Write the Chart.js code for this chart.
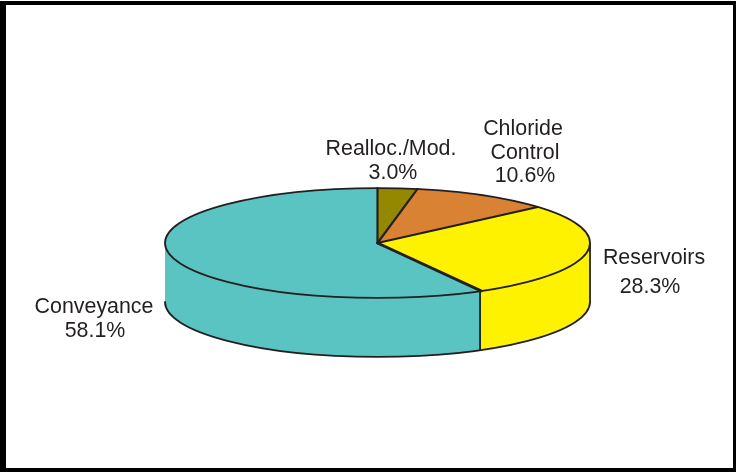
<!DOCTYPE html>
<html>
<head>
<meta charset="utf-8">
<script src="https://cdn.jsdelivr.net/npm/chart.js@4"></script>
<style>
    html, body { margin: 0; padding: 0; background: #fff; overflow: hidden; }
    #frame {
        position: absolute; left: 0; top: 1px; width: 736px; height: 471px;
        box-sizing: border-box; border: solid #000; border-width: 4px 3px 4px 6px;
        pointer-events: none;
    }
    canvas { position: absolute; left: 0; top: 0; }
</style>
</head>
<body>
<canvas id="pieChart" width="736" height="472"></canvas>
<div id="frame"></div>
<script>
// Data
const categories = ['Realloc./Mod.', 'Chloride|Control', 'Reservoirs', 'Conveyance'];
const shares = [3.0, 10.6, 28.3, 58.1];
const sliceColors = ['#948800', '#D98233', '#FFF200', '#5AC4C3'];

// Label placement: centre x and baseline of each line, the value comes last
const labelSpots = [
    { x: [391, 393], y: [155, 179] },
    { x: [523, 525, 525], y: [135, 159, 182] },
    { x: [654, 650], y: [264, 293] },
    { x: [94, 95], y: [313, 337] }
];

const squash = 0.258;   // ellipse height / width
const depth = 59;       // height of the side wall
const inkColor = '#231F20';

function sliceArcs(chart) {
    return chart.getDatasetMeta(0).data;
}

// Tilts the pie and draws the side wall underneath it
const tiltPlugin = {
    id: 'tilt',
    beforeDatasetsDraw(chart) {
        const ctx = chart.ctx;
        const arcs = sliceArcs(chart);
        const { x: cx, y: cy, outerRadius: r } = arcs[0];
        const ry = r * squash;

        // Side wall: only the part of each slice facing the viewer
        ctx.save();
        arcs.forEach((arc, i) => {
            const from = Math.max(arc.startAngle, 0);
            const to = Math.min(arc.endAngle, Math.PI);
            if (to <= from) return;
            ctx.beginPath();
            ctx.ellipse(cx, cy, r, ry, 0, from, to);
            ctx.ellipse(cx, cy + depth, r, ry, 0, to, from, true);
            ctx.closePath();
            ctx.fillStyle = sliceColors[i];
            ctx.fill();
        });
        ctx.restore();

        ctx.save();
        ctx.translate(cx, cy);
        ctx.scale(1, squash);
        ctx.translate(-cx, -cy);
    },
    afterDatasetsDraw(chart) {
        const ctx = chart.ctx;
        ctx.restore();

        const arcs = sliceArcs(chart);
        const { x: cx, y: cy, outerRadius: r } = arcs[0];
        const ry = r * squash;

        ctx.save();
        ctx.strokeStyle = inkColor;
        ctx.lineWidth = 1.8;
        ctx.lineCap = 'round';

        // Rim and bottom edge
        ctx.beginPath();
        ctx.ellipse(cx, cy, r, ry, 0, 0, Math.PI * 2);
        ctx.stroke();
        ctx.beginPath();
        ctx.ellipse(cx, cy + depth, r, ry, 0, 0, Math.PI);
        ctx.stroke();

        // Spokes between the slices, the reservoirs/conveyance one is heavier
        arcs.forEach((arc, i) => {
            const px = cx + r * Math.cos(arc.startAngle);
            const py = cy + ry * Math.sin(arc.startAngle);
            ctx.lineWidth = i === 3 ? 2.8 : 2.2;
            ctx.beginPath();
            ctx.moveTo(cx, cy);
            ctx.lineTo(px, py);
            ctx.stroke();
        });

        // Vertical edges on the wall: right side and the yellow/teal seam
        ctx.lineWidth = 1.8;
        const seam = arcs[3].startAngle;
        [[cx + r, cy], [cx + r * Math.cos(seam) - 1, cy + ry * Math.sin(seam)]].forEach(([px, py]) => {
            ctx.beginPath();
            ctx.moveTo(px, py);
            ctx.lineTo(px, py + depth);
            ctx.stroke();
        });
        ctx.restore();

        // Labels
        ctx.save();
        ctx.fillStyle = inkColor;
        ctx.font = '21.4px "Liberation Sans", Arial, sans-serif';
        ctx.textAlign = 'center';
        categories.forEach((name, i) => {
            const spot = labelSpots[i];
            const lines = name.split('|').concat(shares[i].toFixed(1) + '%');
            lines.forEach((line, k) => ctx.fillText(line, spot.x[k], spot.y[k]));
        });
        ctx.restore();
    }
};

new Chart(document.getElementById('pieChart'), {
    type: 'pie',
    data: {
        labels: categories.map(c => c.replace('|', ' ')),
        datasets: [{
            data: shares,
            backgroundColor: sliceColors,
            borderWidth: 0
        }]
    },
    options: {
        responsive: false,
        animation: false,
        layout: { padding: { left: 165, right: 146, top: 30, bottom: 16 } },
        plugins: {
            legend: { display: false },
            tooltip: { enabled: false }
        }
    },
    plugins: [tiltPlugin]
});
</script>
</body>
</html>
